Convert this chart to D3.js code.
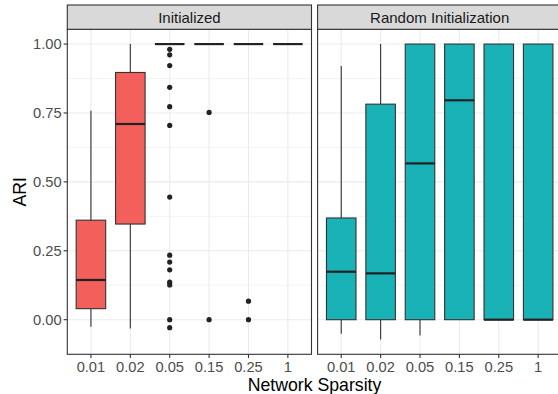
<!DOCTYPE html>
<html>
<head>
<meta charset="utf-8">
<script src="https://cdn.jsdelivr.net/npm/d3@7"></script>
<style>
  html, body { margin: 0; padding: 0; background: #fff; }
  svg { display: block; font-family: "Liberation Sans", Arial, sans-serif; }
</style>
</head>
<body>
<svg id="chart"></svg>
<script>
'use strict';

const sparsity = ['0.01', '0.02', '0.05', '0.15', '0.25', '1'];
const panels = ['Initialized', 'Random Initialization'];
const fills = ['#F35F5B', '#19B2B7'];
const yTicks = [0, 0.25, 0.5, 0.75, 1];
const yMinor = [0.125, 0.375, 0.625, 0.875];

// Initialized
const initLow = [-0.026, -0.032, 1, 1, 1, 1];
const initQ1 = [0.040, 0.347, 1, 1, 1, 1];
const initMed = [0.144, 0.710, 1, 1, 1, 1];
const initQ3 = [0.361, 0.897, 1, 1, 1, 1];
const initHigh = [0.758, 1, 1, 1, 1, 1];
const initOutliers = [
    [],
    [],
    [0.981, 0.961, 0.922, 0.843, 0.773, 0.705, 0.445, 0.234, 0.209, 0.181, 0.136, 0.126, 0, -0.029],
    [0.752, 0],
    [0.067, 0],
    []
];

// Random Initialization
const randLow = [-0.051, -0.072, -0.057, 0, 0, 0];
const randQ1 = [0, 0, 0, 0, 0, 0];
const randMed = [0.174, 0.168, 0.567, 0.796, 0, 0];
const randQ3 = [0.369, 0.782, 1, 1, 1, 1];
const randHigh = [0.920, 1, 1, 1, 1, 1];
const randOutliers = [[], [], [], [], [], []];

(function () {
    const width = 558;
    const height = 394;

    const svg = d3.select('#chart')
        .attr('width', width)
        .attr('height', height);

    const stripTop = 5;
    const panelTop = 29.3;
    const panelBottom = 354.3;
    const panelW = 244.2;
    const panelLefts = [67.3, 317.6];

    function boxes(low, q1, med, q3, high, out) {
        return sparsity.map((s, i) => ({ s, low: low[i], q1: q1[i], med: med[i], q3: q3[i], high: high[i], out: out[i] }));
    }
    const data = [
        boxes(initLow, initQ1, initMed, initQ3, initHigh, initOutliers),
        boxes(randLow, randQ1, randMed, randQ3, randHigh, randOutliers)
    ];

    const lo = d3.min(data.flat(), d => Math.min(d.low, ...d.out));
    const hi = d3.max(data.flat(), d => Math.max(d.high, ...d.out));
    const pad = (hi - lo) * 0.05;
    const y = d3.scaleLinear()
        .domain([lo - pad, hi + pad])
        .range([panelBottom, panelTop]);

    panels.forEach((name, p) => {
        const x0 = panelLefts[p];
        const x = d3.scalePoint()
            .domain(sparsity)
            .range([x0, x0 + panelW])
            .padding(0.6);
        const bw = x.step() * 0.75;

        const g = svg.append('g');

        g.append('rect')
            .attr('x', x0).attr('y', panelTop)
            .attr('width', panelW).attr('height', panelBottom - panelTop)
            .attr('fill', '#fff');

        // grid
        g.selectAll('.minor')
            .data(yMinor)
            .enter().append('line')
            .attr('x1', x0).attr('x2', x0 + panelW)
            .attr('y1', d => y(d)).attr('y2', d => y(d))
            .attr('stroke', '#ebebeb').attr('stroke-width', 0.6);
        g.selectAll('.major')
            .data(yTicks)
            .enter().append('line')
            .attr('x1', x0).attr('x2', x0 + panelW)
            .attr('y1', d => y(d)).attr('y2', d => y(d))
            .attr('stroke', '#ebebeb').attr('stroke-width', 1.1);
        g.selectAll('.vmajor')
            .data(sparsity)
            .enter().append('line')
            .attr('x1', d => x(d)).attr('x2', d => x(d))
            .attr('y1', panelTop).attr('y2', panelBottom)
            .attr('stroke', '#ebebeb').attr('stroke-width', 1.1);

        const box = g.selectAll('.box')
            .data(data[p])
            .enter().append('g');

        box.append('line')
            .attr('x1', d => x(d.s)).attr('x2', d => x(d.s))
            .attr('y1', d => y(d.q3)).attr('y2', d => y(d.high))
            .attr('stroke', '#333').attr('stroke-width', 1.1);
        box.append('line')
            .attr('x1', d => x(d.s)).attr('x2', d => x(d.s))
            .attr('y1', d => y(d.q1)).attr('y2', d => y(d.low))
            .attr('stroke', '#333').attr('stroke-width', 1.1);
        box.append('rect')
            .attr('x', d => x(d.s) - bw / 2)
            .attr('y', d => y(d.q3))
            .attr('width', bw)
            .attr('height', d => y(d.q1) - y(d.q3))
            .attr('fill', fills[p])
            .attr('stroke', '#333').attr('stroke-width', 1.1);
        box.append('line')
            .attr('x1', d => x(d.s) - bw / 2).attr('x2', d => x(d.s) + bw / 2)
            .attr('y1', d => y(d.med)).attr('y2', d => y(d.med))
            .attr('stroke', '#222').attr('stroke-width', 2.2);
        box.selectAll('circle')
            .data(d => d.out.map(v => ({ s: d.s, v })))
            .enter().append('circle')
            .attr('cx', d => x(d.s))
            .attr('cy', d => y(d.v))
            .attr('r', 2.6)
            .attr('fill', '#222');

        // panel border
        g.append('rect')
            .attr('x', x0).attr('y', panelTop)
            .attr('width', panelW).attr('height', panelBottom - panelTop)
            .attr('fill', 'none').attr('stroke', '#333').attr('stroke-width', 1.1);

        // strip
        g.append('rect')
            .attr('x', x0).attr('y', stripTop)
            .attr('width', panelW).attr('height', panelTop - stripTop)
            .attr('fill', '#d9d9d9').attr('stroke', '#333').attr('stroke-width', 1.1);
        g.append('text')
            .attr('x', x0 + panelW / 2)
            .attr('y', (stripTop + panelTop) / 2)
            .attr('dy', '0.36em')
            .attr('text-anchor', 'middle')
            .attr('font-size', 15)
            .attr('fill', '#1a1a1a')
            .text(name);

        // x axis
        const xa = g.append('g');
        xa.selectAll('line')
            .data(sparsity)
            .enter().append('line')
            .attr('x1', d => x(d)).attr('x2', d => x(d))
            .attr('y1', panelBottom).attr('y2', panelBottom + 3.7)
            .attr('stroke', '#333').attr('stroke-width', 1.1);
        xa.selectAll('text')
            .data(sparsity)
            .enter().append('text')
            .attr('x', d => x(d))
            .attr('y', 371.5)
            .attr('text-anchor', 'middle')
            .attr('font-size', 14.7)
            .attr('fill', '#4d4d4d')
            .text(d => d);
    });

    // y axis (left panel only)
    const ya = svg.append('g');
    ya.selectAll('line')
        .data(yTicks)
        .enter().append('line')
        .attr('x1', panelLefts[0] - 3.7).attr('x2', panelLefts[0])
        .attr('y1', d => y(d)).attr('y2', d => y(d))
        .attr('stroke', '#333').attr('stroke-width', 1.1);
    ya.selectAll('text')
        .data(yTicks)
        .enter().append('text')
        .attr('x', panelLefts[0] - 5.6)
        .attr('y', d => y(d))
        .attr('dy', '0.36em')
        .attr('text-anchor', 'end')
        .attr('font-size', 14.7)
        .attr('fill', '#4d4d4d')
        .text(d => d3.format('.2f')(d));

    svg.append('text')
        .attr('transform', 'translate(25.5,' + ((panelTop + panelBottom) / 2) + ') rotate(-90)')
        .attr('text-anchor', 'middle')
        .attr('font-size', 17.7)
        .attr('fill', '#000')
        .text('ARI');

    svg.append('text')
        .attr('x', (panelLefts[0] + panelLefts[1] + panelW) / 2)
        .attr('y', 390.5)
        .attr('text-anchor', 'middle')
        .attr('font-size', 17.7)
        .attr('fill', '#000')
        .text('Network Sparsity');
})();
</script>
</body>
</html>
